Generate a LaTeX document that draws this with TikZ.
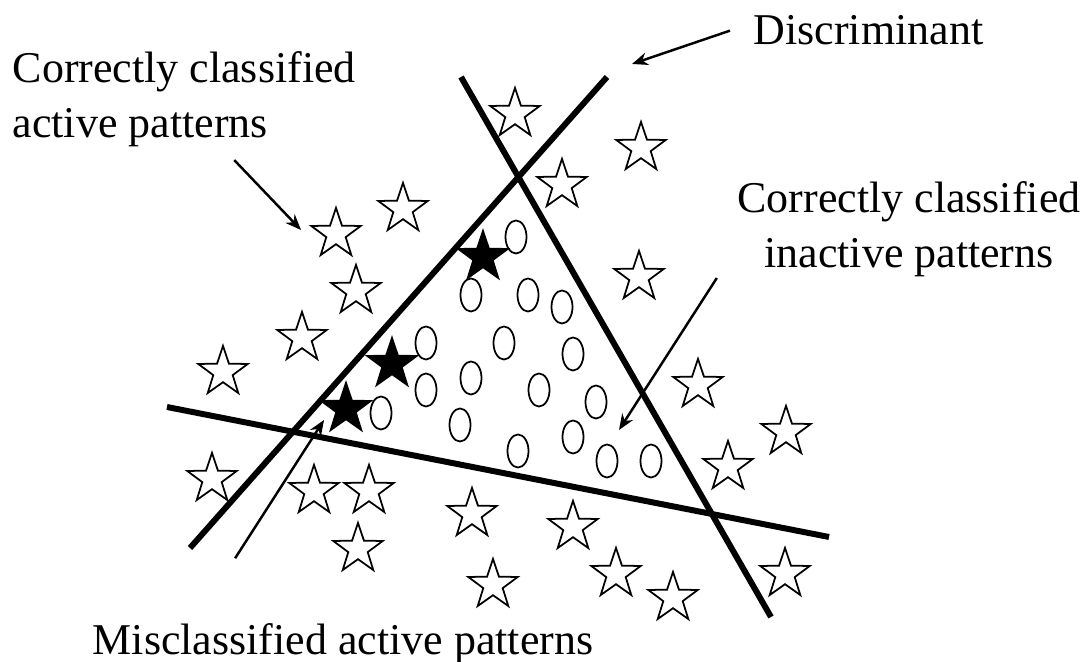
\documentclass[tikz,border=0pt]{standalone}
\usepackage{fontspec}
\setmainfont{Liberation Serif}
\usetikzlibrary{shapes.geometric,arrows.meta}
\tikzset{
  hollow/.style={star, star points=5, star point ratio=2.55, minimum size=0.52cm, inner sep=0pt, draw=black, line width=0.5pt, fill=white},
  solid/.style={hollow, fill=black},
  pebble/.style={ellipse, minimum width=0.21cm, minimum height=0.33cm, inner sep=0pt, draw=black, line width=0.5pt},
  edge/.style={line width=1.7pt},
  arr/.style={-{Stealth[length=4.5pt,width=3.6pt]}, line width=0.7pt},
  lbl/.style={font=\fontsize{12.5}{15.9}\selectfont, inner sep=0pt}
}
\begin{document}
\begin{tikzpicture}[x=0.01cm, y=-0.01cm]
\useasboundingbox (0,0) rectangle (1085,662);
\coordinate (la) at (190,548);
\coordinate (lb) at (607,77);
\coordinate (ra) at (461,77);
\coordinate (rb) at (771,617);
\coordinate (ha) at (167,407);
\coordinate (hb) at (829,537);
\draw[edge] (la) -- (lb);
\draw[edge] (ra) -- (rb);
\draw[edge] (ha) -- (hb);
\foreach \x/\y [count=\i] in {516/237,471/295,528/295,562/307,426/343,504/343,573/354,426/390,471/378,539/390,596/402,381/413,460/425,573/437,518/451,607/461,651/461}
  \node[pebble] (e\i) at (\x,\y) {};
\foreach \x/\y [count=\i] in {515/114,641/148,562/185,403/209,336/234,356/291,639/277,302/338,223/372,698/385,786/432,728/467,212/479,314/491,369/491,472/514,573/527,358/549,493/585,616/574,673/598,785/574}
  \node[hollow] (s\i) at (\x,\y) {};
\foreach \x/\y [count=\i] in {483/257,392/364,346/409}
  \node[solid] (f\i) at (\x,\y) {};
\node[lbl, anchor=base west] (disc) at (753,45) {Discriminant};
\node[lbl, anchor=base west, align=left] (act) at (12,138) {Correctly classified\\active patterns};
\node[lbl, anchor=base, align=center] (inact) at (909,268) {Correctly classified\\inactive patterns};
\node[lbl, anchor=base west] (mis) at (92,655) {Misclassified active patterns};
\coordinate (discTip) at (632,64);
\coordinate (actTip) at (301,230);
\coordinate (inactTip) at (619,430);
\coordinate (misTip) at (324,420);
\draw[arr] ([xshift=-2.3mm]disc.west) -- (discTip);
\draw[arr] ([xshift=5mm,yshift=-1.2mm]act.south) -- (actTip);
\draw[arr] ([xshift=-2mm]inact.south west) -- (inactTip);
\draw[arr] ([xshift=14.3mm,yshift=6.5mm]mis.north west) -- (misTip);
\end{tikzpicture}
\end{document}
